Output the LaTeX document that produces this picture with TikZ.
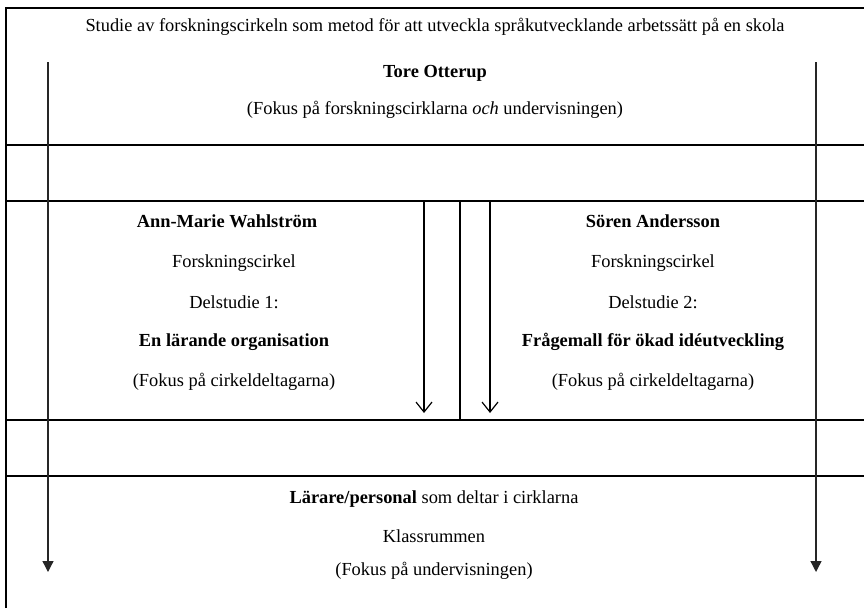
\documentclass[tikz,border=0pt]{standalone}
\usepackage{fontspec}
\setmainfont{Liberation Serif}
\usetikzlibrary{positioning, arrows.meta}

\begin{document}
\begin{tikzpicture}[
  x=1pt, y=-1pt,
  font=\fontsize{18.4}{21}\selectfont,
  frame/.style={draw=black, line width=1.3pt},
  label/.style={inner sep=0pt, anchor=center, align=center},
  longarrow/.style={draw=black!85, line width=1.3pt, -{Triangle[length=11pt, width=11pt]}},
  openarrow/.style={draw=black, line width=1.2pt, -{Straight Barb[length=10pt, width=16pt, line width=1.2pt]}}
]
\useasboundingbox (0,0) rectangle (864,608);

% frame and rows
\coordinate (tl) at (6,8);
\coordinate (tr) at (864,8);
\coordinate (bl) at (6,608);
\draw[frame] (bl) -- (tl) -- (tr);
\draw[frame] (6,145) -- (864,145);
\draw[frame] (6,201) -- (864,201);
\draw[frame] (6,420) -- (864,420);
\draw[frame] (6,476) -- (864,476);
\draw[frame] (460,201) -- (460,420);

% top row
\node[label] (title) at (435,27) {Studie av forskningscirkeln som metod för att utveckla språkutvecklande arbetssätt på en skola};
\node[label] (tore) at (435,73) {\textbf{Tore Otterup}};
\node[label] (tfocus) at (435,110) {(Fokus på forskningscirklarna \textit{och} undervisningen)};

% left study
\node[label] (ann) at (227,221) {\textbf{Ann-Marie Wahlström}};
\node[label] (lcirc) at (234,263) {Forskningscirkel};
\node[label] (ldel) at (234,302) {Delstudie 1:};
\node[label] (lorg) at (234,342) {\textbf{En lärande organisation}};
\node[label] (lfocus) at (234,382) {(Fokus på cirkeldeltagarna)};

% right study
\node[label] (soren) at (653,221) {\textbf{Sören Andersson}};
\node[label] (rcirc) at (653,263) {Forskningscirkel};
\node[label] (rdel) at (653,302) {Delstudie 2:};
\node[label] (rmall) at (653,342) {\textbf{Frågemall för ökad idéutveckling}};
\node[label] (rfocus) at (653,382) {(Fokus på cirkeldeltagarna)};

% bottom row
\node[label] (teach) at (434,499) {\textbf{Lärare/personal} som deltar i cirklarna};
\node[label] (room) at (434,536) {Klassrummen};
\node[label] (bfocus) at (434,571) {(Fokus på undervisningen)};

% arrows
\coordinate (la) at (48,62);
\coordinate (lb) at (48,572);
\coordinate (ra) at (816,62);
\coordinate (rb) at (816,572);
\draw[longarrow] (la) -- (lb);
\draw[longarrow] (ra) -- (rb);
\coordinate (ma) at (424,201);
\coordinate (mb) at (424,413);
\coordinate (na) at (490,201);
\coordinate (nb) at (490,413);
\draw[openarrow] (ma) -- (mb);
\draw[openarrow] (na) -- (nb);
\end{tikzpicture}
\end{document}
